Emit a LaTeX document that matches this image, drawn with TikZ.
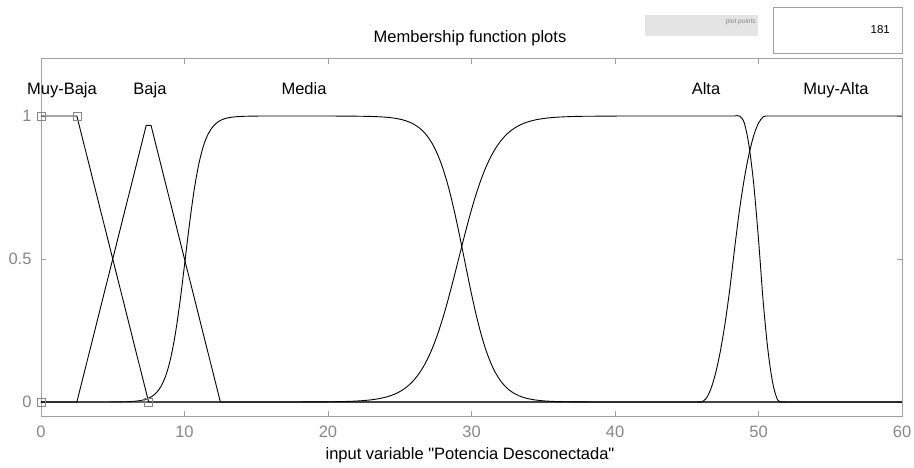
\documentclass[tikz,border=0pt]{standalone}
\usepackage{fontspec}
\setmainfont{Liberation Sans}[Ligatures=TeXOff]
\definecolor{axisgray}{RGB}{160,160,160}
\definecolor{labelgray}{RGB}{135,135,135}
\definecolor{panelgray}{RGB}{228,228,228}
\tikzset{
    mflabel/.style={font=\fontsize{16.5}{18}\selectfont, text=black, anchor=base},
    ticklabel/.style={font=\fontsize{16.5}{18}\selectfont, text=labelgray},
    marker/.style={draw=labelgray, line width=0.6pt, minimum size=8pt, inner sep=0pt, fill=none},
    mfcurve/.style={black, line width=0.9pt, line join=round}
}
% clamped sigmoid and z-shaped curve
\pgfmathdeclarefunction{sgm}{1}{\pgfmathparse{1/(1+exp(-max(min(#1,9),-9)))}}
\pgfmathdeclarefunction{zshape}{3}{\pgfmathparse{min(max((#1-#2)/(#3-#2),0),1)}\let\tt\pgfmathresult
    \pgfmathparse{\tt<0.5 ? 1-2*\tt*\tt : 2*(1-\tt)*(1-\tt)}}
\begin{document}
\begin{tikzpicture}[x=14.35pt, y=286pt]
        \useasboundingbox (-41pt,-66pt) rectangle (873pt,402pt);
        % axes box and ticks
        \draw[axisgray, line width=0.8pt] (0,-0.05) rectangle (60,1.2);
        \foreach \t in {0,10,...,60} {
            \draw[axisgray, line width=0.8pt] (\t,-0.05) -- ++(0,5pt);
            \draw[axisgray, line width=0.8pt] (\t,1.2) -- ++(0,-5pt);
            \node[ticklabel, anchor=base] (xt\t) at (\t,-36pt) {\t};
        }
        \foreach \t/\n in {0/0,0.5/h,1/1} {
            \draw[axisgray, line width=0.8pt] (0,\t) -- ++(5pt,0);
            \draw[axisgray, line width=0.8pt] (60,\t) -- ++(-5pt,0);
            \node[ticklabel, anchor=east] (yt\n) at (-6pt,\t) {\t};
        }
        % membership functions
        \draw[mfcurve] (0,1) -- (2.5,1) -- (7.5,0) -- (60,0);
        \draw[mfcurve] (0,0) -- (2.5,0) -- (7.333,0.967) -- (7.667,0.967) -- (12.5,0) -- (60,0);
        \draw[mfcurve] plot[domain=0:60, samples=181, smooth] (\x, {sgm(1.69*(\x-10.05))*sgm(-1.0*(\x-29.5))});
        \draw[mfcurve] plot[domain=0:60, samples=181, smooth] (\x, {sgm(0.8*(\x-29.1))*zshape(\x,48.7,51.5)});
        \draw[mfcurve] plot[domain=0:60, samples=181, smooth] (\x, {1-zshape(\x,46,50.5)});
        % markers of the selected function
        \node[marker] (m0) at (0,0) {};
        \node[marker] (m1) at (0,1) {};
        \node[marker] (m2) at (2.5,1) {};
        \node[marker] (m3) at (7.5,0) {};
        % labels
        \node[mflabel] (muybaja) at (21pt,307pt) {Muy-Baja};
        \node[mflabel] (baja) at (109pt,307pt) {Baja};
        \node[mflabel] (media) at (263pt,307pt) {Media};
        \node[mflabel] (alta) at (665pt,307pt) {Alta};
        \node[mflabel] (muyalta) at (795pt,307pt) {Muy-Alta};
        \node[mflabel] (title) at (429pt,359pt) {Membership function plots};
        \node[mflabel] (xlabel) at (429pt,-58pt) {input variable "Potencia Desconectada"};
        % plot points panel
        \node[fill=panelgray, minimum width=113pt, minimum height=21pt, inner sep=0pt] (ppbar) at (660.5pt,376.5pt) {};
        \node[anchor=east, text=labelgray, font=\fontsize{6.6}{8}\selectfont, inner sep=1pt] (pptext) at (716pt,380pt) {plot points};
        \node[draw=axisgray, line width=0.6pt, minimum width=129pt, minimum height=46pt, inner sep=0pt] (ppbox) at (796.5pt,372pt) {};
        \node[anchor=east, font=\fontsize{11.5}{13}\selectfont, inner sep=0pt] (ppval) at (849pt,372pt) {181};
    \end{tikzpicture}
\end{document}
